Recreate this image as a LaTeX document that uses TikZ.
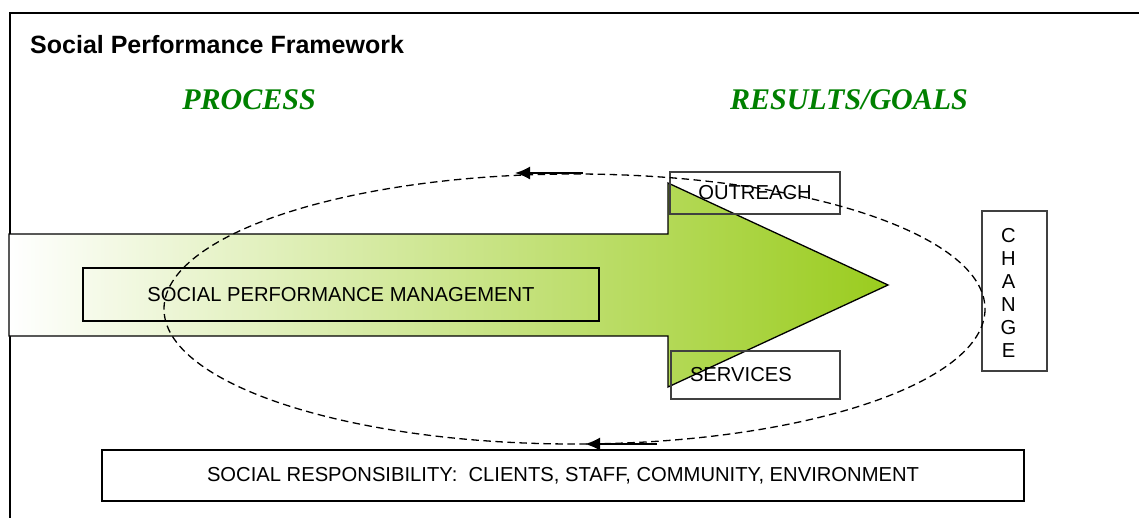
\documentclass[tikz,border=0pt]{standalone}
\usepackage{fontspec}
\setmainfont{Liberation Sans}
\newfontfamily\timesfont{Liberation Serif}
\usetikzlibrary{positioning}
\usetikzlibrary{arrows.meta}
\definecolor{headgreen}{RGB}{0,128,0}
\definecolor{arrowgreen}{RGB}{154,204,30}
\definecolor{midgreen}{RGB}{222,236,204}
\definecolor{boxgray}{RGB}{64,64,64}

\begin{document}
\begin{tikzpicture}[x=1pt,y=-1pt,
  lbl/.style={font=\fontsize{20.2}{23}\selectfont,inner sep=0pt},
  bbox/.style={lbl,draw=black,line width=1.4pt},
  gbox/.style={lbl,draw=boxgray,line width=1.3pt},
  heading/.style={font=\fontsize{30}{34}\selectfont\timesfont\bfseries\itshape,text=headgreen,inner sep=0pt},
  loop/.style={dashed,dash pattern=on 7.5pt off 4.5pt,line width=1.3pt},
  turn/.style={line width=1.8pt,-{Latex[length=15pt,width=13pt]}}]
 \useasboundingbox (0,0) rectangle (1139,517);
 \draw [line width=2.2pt](10,530)--(10,13)--(1150,13);
 \node [lbl,anchor=west,font=\fontsize{25}{28}\selectfont\bfseries] (title) at (30,45) {Social Performance Framework};
 \node [heading] (process) at (249,100) {PROCESS};
 \node [heading] (results) at (849,100) {RESULTS/GOALS};
 \shade [left color=white,middle color=midgreen,right color=arrowgreen] (9,234)--(668,234)--(668,183)--(888,285)--(668,387)--(668,336)--(9,336)--cycle;
 \draw [line width=1.3pt] (9,234)--(668,234)--(668,183)--(888,285)--(668,387)--(668,336)--(9,336)--cycle;
 \node [bbox,minimum width=516,minimum height=53] (spm) at (341,294.5) {SOCIAL PERFORMANCE MANAGEMENT};
 \node [gbox,minimum width=170,minimum height=42] (outreach) at (755,193) {OUTREACH};
 \node [gbox,minimum width=169,minimum height=48,text width=131,align=left] (services) at (755.5,375) {SERVICES};
 \node [gbox,minimum width=65,minimum height=160] (change) at (1014.5,291) {};
 \node [lbl,align=center] (changetxt) at ([xshift=-6,yshift=-2]change.center) {C\\H\\A\\N\\G\\E};
 \node [bbox,minimum width=922,minimum height=51] (resp) at (563,475.5) {SOCIAL RESPONSIBILITY:\ \ CLIENTS, STAFF, COMMUNITY, ENVIRONMENT};
 \draw [loop] (574.5,309) ellipse [x radius=410.5,y radius=135];
 \coordinate (topfrom) at (583,173);
 \coordinate (topto) at (515,173);
 \coordinate (botfrom) at (657,444);
 \coordinate (botto) at (585,444);
 \draw [turn] (topfrom)--(topto);
 \draw [turn] (botfrom)--(botto);
\end{tikzpicture}
\end{document}
